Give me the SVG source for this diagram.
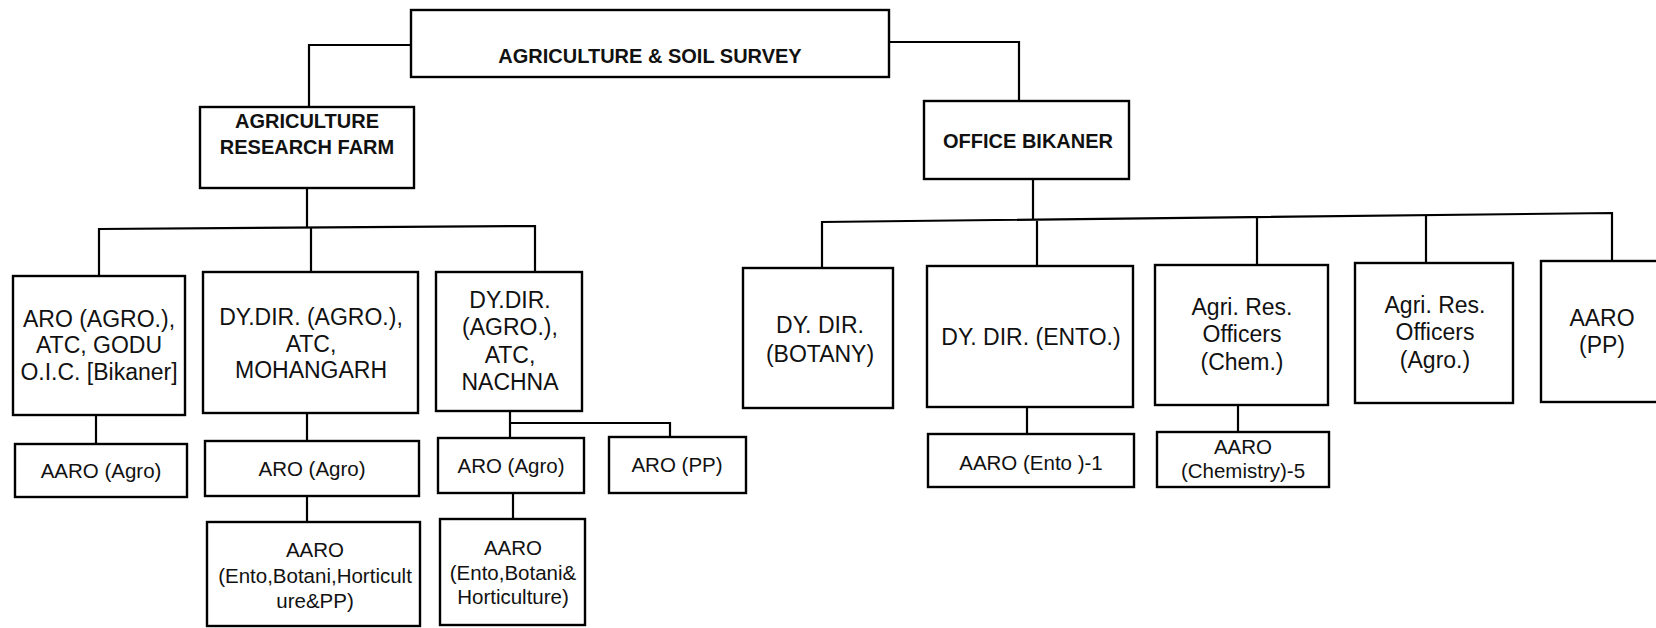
<svg xmlns="http://www.w3.org/2000/svg" width="1656" height="628" viewBox="0 0 1656 628">
<style>
  .box{fill:#fff;stroke:#000;stroke-width:2.4}
  .ln{fill:none;stroke:#000;stroke-width:2.2}
  text{font-family:"Liberation Sans",Arial,sans-serif;fill:#111;text-anchor:middle}
  .b{font-weight:bold;font-size:20px}
  .l{font-size:23px}
  .s{font-size:20.5px}
</style>
<rect width="1656" height="628" fill="#fff"/>
<g id="connectors">
  <path class="ln" d="M411,45 H309 V107"/>
  <path class="ln" d="M889,42 H1019 V102"/>
  <path class="ln" d="M307,188 V228"/>
  <path class="ln" d="M99,276 V229 L535,226 V272"/>
  <path class="ln" d="M311,228 V272"/>
  <path class="ln" d="M96,415 V444"/>
  <path class="ln" d="M307,413 V441"/>
  <path class="ln" d="M307,496 V522"/>
  <path class="ln" d="M510,411 V438"/>
  <path class="ln" d="M510,423 H670 V437"/>
  <path class="ln" d="M513,493 V519"/>
  <path class="ln" d="M1033,179 V220"/>
  <path class="ln" d="M822,268 V222 L1612,213 V261"/>
  <path class="ln" d="M1037,221 V266"/>
  <path class="ln" d="M1257,218 V265"/>
  <path class="ln" d="M1426,215 V263"/>
  <path class="ln" d="M1027,407 V434"/>
  <path class="ln" d="M1238,405 V432"/>
</g>
<g id="n-top">
  <rect class="box" x="411" y="10" width="478" height="67"/>
  <text class="b" x="650" y="63">AGRICULTURE &amp; SOIL SURVEY</text>
</g>
<g id="n-arf">
  <rect class="box" x="200" y="107" width="214" height="81"/>
  <text class="b" x="307" y="128">AGRICULTURE</text>
  <text class="b" x="307" y="154">RESEARCH FARM</text>
</g>
<g id="n-office">
  <rect class="box" x="924" y="101" width="205" height="78"/>
  <text class="b" x="1028" y="148">OFFICE BIKANER</text>
</g>
<g id="n-godu">
  <rect class="box" x="13" y="276" width="172" height="139"/>
  <text class="l" x="99" y="327">ARO (AGRO.),</text>
  <text class="l" x="99" y="353">ATC, GODU</text>
  <text class="l" x="99" y="380">O.I.C. [Bikaner]</text>
</g>
<g id="n-mohangarh">
  <rect class="box" x="203" y="272" width="215" height="141"/>
  <text class="l" x="311" y="325">DY.DIR. (AGRO.),</text>
  <text class="l" x="311" y="352">ATC,</text>
  <text class="l" x="311" y="378">MOHANGARH</text>
</g>
<g id="n-nachna">
  <rect class="box" x="436" y="272" width="146" height="139"/>
  <text class="l" x="510" y="308">DY.DIR.</text>
  <text class="l" x="510" y="335">(AGRO.),</text>
  <text class="l" x="510" y="363">ATC,</text>
  <text class="l" x="510" y="390">NACHNA</text>
</g>
<g id="n-godu-aaro">
  <rect class="box" x="15" y="444" width="172" height="53"/>
  <text class="s" x="101" y="478">AARO (Agro)</text>
</g>
<g id="n-mohangarh-aro">
  <rect class="box" x="205" y="441" width="214" height="55"/>
  <text class="s" x="312" y="476">ARO (Agro)</text>
</g>
<g id="n-mohangarh-aaro">
  <rect class="box" x="207" y="522" width="213" height="104"/>
  <text class="s" x="315" y="557">AARO</text>
  <text class="s" x="315" y="583">(Ento,Botani,Horticult</text>
  <text class="s" x="315" y="608">ure&amp;PP)</text>
</g>
<g id="n-nachna-aro">
  <rect class="box" x="438" y="438" width="146" height="55"/>
  <text class="s" x="511" y="473">ARO (Agro)</text>
</g>
<g id="n-nachna-aropp">
  <rect class="box" x="609" y="437" width="137" height="56"/>
  <text class="s" x="677" y="472">ARO (PP)</text>
</g>
<g id="n-nachna-aaro">
  <rect class="box" x="440" y="519" width="145" height="106"/>
  <text class="s" x="513" y="555">AARO</text>
  <text class="s" x="513" y="580">(Ento,Botani&amp;</text>
  <text class="s" x="513" y="604">Horticulture)</text>
</g>
<g id="n-botany">
  <rect class="box" x="743" y="268" width="150" height="140"/>
  <text class="l" x="820" y="333">DY. DIR.</text>
  <text class="l" x="820" y="362">(BOTANY)</text>
</g>
<g id="n-ento">
  <rect class="box" x="927" y="266" width="206" height="141"/>
  <text class="l" x="1031" y="345">DY. DIR. (ENTO.)</text>
</g>
<g id="n-chem">
  <rect class="box" x="1155" y="265" width="173" height="140"/>
  <text class="l" x="1242" y="315">Agri. Res.</text>
  <text class="l" x="1242" y="342">Officers</text>
  <text class="l" x="1242" y="370">(Chem.)</text>
</g>
<g id="n-agro">
  <rect class="box" x="1355" y="263" width="158" height="140"/>
  <text class="l" x="1435" y="313">Agri. Res.</text>
  <text class="l" x="1435" y="340">Officers</text>
  <text class="l" x="1435" y="368">(Agro.)</text>
</g>
<g id="n-aaropp">
  <rect class="box" x="1541" y="261" width="130" height="141"/>
  <text class="l" x="1602" y="326">AARO</text>
  <text class="l" x="1602" y="353">(PP)</text>
</g>
<g id="n-ento-aaro">
  <rect class="box" x="928" y="434" width="206" height="53"/>
  <text class="s" x="1031" y="470">AARO (Ento )-1</text>
</g>
<g id="n-chem-aaro">
  <rect class="box" x="1157" y="432" width="172" height="55"/>
  <text class="s" x="1243" y="454">AARO</text>
  <text class="s" x="1243" y="478">(Chemistry)-5</text>
</g>
</svg>
